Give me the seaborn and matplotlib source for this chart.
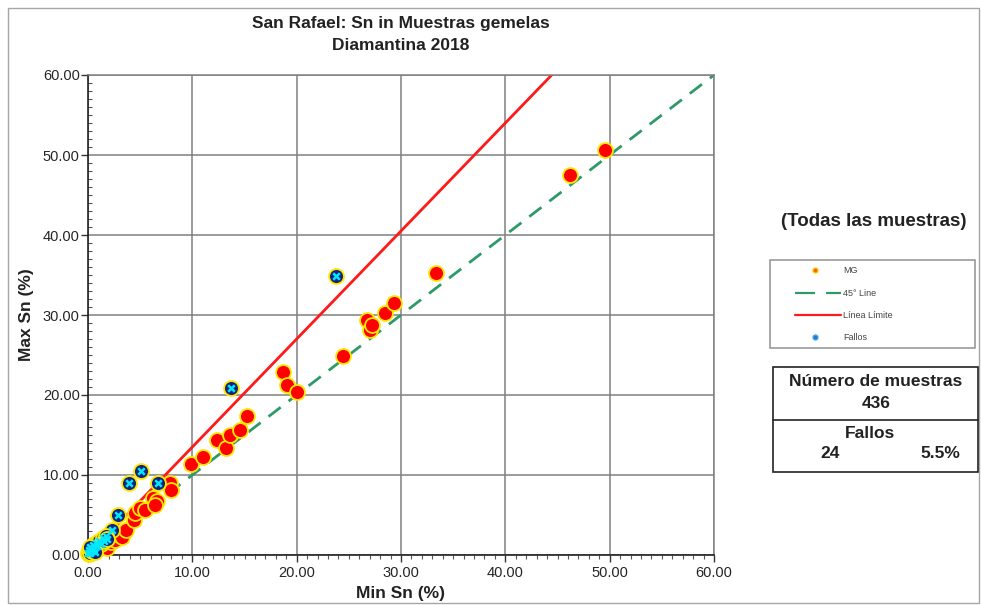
import numpy as np
import pandas as pd
import matplotlib
matplotlib.use('Agg')
import matplotlib.pyplot as plt
import seaborn as sns
from matplotlib.lines import Line2D
from matplotlib.patches import Rectangle
from matplotlib.ticker import MultipleLocator, FormatStrFormatter

# ---------------- data ----------------
mg_min = [0.1, 0.3, 0.6, 1.0, 1.5, 1.8, 2.2, 2.6, 3.0, 3.3, 3.6, 4.4, 4.5, 5.0, 5.5,
          6.2, 6.6, 6.4, 7.9, 8.0, 9.9, 11.0, 12.4, 13.2, 13.6, 14.6, 15.2, 18.7,
          19.1, 20.0, 24.4, 26.7, 27.0, 27.2, 28.5, 29.3, 33.4, 46.2, 49.6]
mg_max = [0.1, 0.2, 0.5, 0.8, 1.1, 0.9, 1.6, 1.9, 2.5, 2.3, 3.1, 4.4, 5.2, 5.9, 5.6,
          7.1, 6.7, 6.2, 9.0, 8.1, 11.4, 12.2, 14.4, 13.4, 15.0, 15.6, 17.4, 22.9,
          21.3, 20.4, 24.9, 29.4, 28.1, 28.7, 30.3, 31.5, 35.3, 47.5, 50.6]

fallos_min = [23.8, 13.7, 5.1, 3.9, 6.7, 2.9, 2.3,
              0.0, 0.1, 0.2, 0.3, 0.4, 0.5, 0.6, 0.8, 0.9, 1.1, 1.2, 1.4, 1.5, 1.7, 1.8, 0.2, 0.7]
fallos_max = [34.9, 20.9, 10.5, 9.0, 9.0, 5.0, 3.1,
              0.3, 0.6, 0.2, 0.9, 0.5, 1.2, 0.8, 1.5, 1.1, 1.8, 1.4, 2.1, 1.7, 2.4, 2.0, 1.0, 0.4]

line45_x = [0, 60]
line45_y = [0, 60]
limit_x = [0, 60]
limit_y = [0, 81]          # Línea Límite, slope ~1.35

legend_labels = ['MG', '45° Line', 'Línea Límite', 'Fallos']
n_muestras = '436'
n_fallos = '24'
pct_fallos = '5.5%'

# ---------------- style ----------------
sns.set_style('white')
plt.rcParams['font.family'] = ['Liberation Sans', 'DejaVu Sans']

W, H = 981, 605
fig = plt.figure(figsize=(W / 100, H / 100), dpi=100)

def fx(px):
    return px / W

def fy(py):
    return 1 - py / H

ax = fig.add_axes([fx(88), fy(555), fx(714) - fx(88), fy(75) - fy(555)])
ax.set_xlim(0, 60)
ax.set_ylim(0, 60)
ax.grid(True, which='major', color='#808080', lw=1.1)
ax.set_axisbelow(True)

# lines
sns.lineplot(x=line45_x, y=line45_y, ax=ax, color='#2e9a68', lw=2.0, zorder=2)
ax.lines[-1].set_dashes([5.5, 3.6])
sns.lineplot(x=limit_x, y=limit_y, ax=ax, color='#ff1a1a', lw=2.0, zorder=2)

# points
sns.scatterplot(x=mg_min, y=mg_max, ax=ax, s=115, color='#ff0000',
                edgecolor='#ffe600', linewidth=1.3, zorder=3, clip_on=False)
sns.scatterplot(x=fallos_min, y=fallos_max, ax=ax, s=115, color='#14247a',
                edgecolor='#ffe600', linewidth=1.3, zorder=4, clip_on=False)
sns.scatterplot(x=fallos_min, y=fallos_max, ax=ax, s=22, marker='x', color='#00e8ff',
                linewidth=1.8, zorder=5, clip_on=False)

# ticks
ax.xaxis.set_major_locator(MultipleLocator(10))
ax.yaxis.set_major_locator(MultipleLocator(10))
ax.xaxis.set_minor_locator(MultipleLocator(1))
ax.yaxis.set_minor_locator(MultipleLocator(1))
ax.xaxis.set_major_formatter(FormatStrFormatter('%.2f'))
ax.yaxis.set_major_formatter(FormatStrFormatter('%.2f'))
ax.tick_params(axis='both', which='major', direction='out', length=5, width=1,
               color='#333333', labelsize=10.5, labelcolor='#262626', pad=3,
               bottom=True, left=True)
ax.tick_params(axis='y', which='major', pad=1)
ax.tick_params(axis='y', which='minor', direction='in', length=3, width=0.8,
               color='#555555', left=True)
ax.tick_params(axis='x', which='minor', direction='out', length=3, width=0.8,
               color='#555555', bottom=True)

for s in ['left', 'bottom']:
    ax.spines[s].set_color('#222222')
    ax.spines[s].set_linewidth(1.2)
for s in ['top', 'right']:
    ax.spines[s].set_color('#808080')
    ax.spines[s].set_linewidth(1.1)

ax.set_xlabel('Min Sn (%)', fontsize=12.5, fontweight='bold', color='#222222', labelpad=4)
ax.set_ylabel('Max Sn (%)', fontsize=12.5, fontweight='bold', color='#222222', labelpad=6)
ax.set_title('San Rafael: Sn in Muestras gemelas\nDiamantina 2018', fontsize=12.5,
             fontweight='bold', color='#222222', pad=18, linespacing=1.6)

# figure border
fig.add_artist(Rectangle((fx(8), fy(603)), fx(979) - fx(8), fy(8) - fy(603),
                         transform=fig.transFigure, fill=False, edgecolor='#a6a6a6', lw=1.0))

# subtitle
fig.text(fx(874), fy(222), '(Todas las muestras)', ha='center', va='center',
         fontsize=13.5, fontweight='bold', color='#222222')

# legend box (manual)
fig.add_artist(Rectangle((fx(770), fy(348)), fx(975) - fx(770), fy(260) - fy(348),
                         transform=fig.transFigure, fill=False, edgecolor='#9a9a9a', lw=1.2))
rows = [270, 293, 315, 337]
fig.add_artist(Line2D([fx(815)], [fy(rows[0])], transform=fig.transFigure, marker='o',
                      markersize=3.5, markerfacecolor='#ff5a00', markeredgecolor='#ffc400',
                      linestyle='none'))
fig.add_artist(Line2D([fx(795), fx(841)], [fy(rows[1])] * 2, transform=fig.transFigure,
                      color='#2e9a68', lw=1.6, dashes=[9, 5]))
fig.add_artist(Line2D([fx(795), fx(841)], [fy(rows[2])] * 2, transform=fig.transFigure,
                      color='#ff1a1a', lw=1.6))
fig.add_artist(Line2D([fx(815)], [fy(rows[3])], transform=fig.transFigure, marker='o',
                      markersize=3.5, markerfacecolor='#1e78d2', markeredgecolor='#4aa0e6',
                      linestyle='none'))
for r, lab in zip(rows, legend_labels):
    fig.text(fx(843), fy(r), lab, ha='left', va='center', fontsize=6.5, color='#444444')

# table box
fig.add_artist(Rectangle((fx(773), fy(472)), fx(978) - fx(773), fy(367) - fy(472),
                         transform=fig.transFigure, fill=False, edgecolor='#222222', lw=1.2))
fig.add_artist(Line2D([fx(773), fx(978)], [fy(420)] * 2, transform=fig.transFigure,
                      color='#222222', lw=1.2))
fig.text(fx(876), fy(381), 'Número de muestras', ha='center', va='center', fontsize=12.5,
         fontweight='bold', color='#222222')
fig.text(fx(876), fy(403), n_muestras, ha='center', va='center', fontsize=12.5,
         fontweight='bold', color='#222222')
fig.text(fx(870), fy(434), 'Fallos', ha='center', va='center', fontsize=12.5,
         fontweight='bold', color='#222222')
fig.text(fx(830), fy(453), n_fallos, ha='center', va='center', fontsize=12.5,
         fontweight='bold', color='#222222')
fig.text(fx(940), fy(453), pct_fallos, ha='center', va='center', fontsize=12.5,
         fontweight='bold', color='#222222')

fig.savefig('out.png', dpi=100)
